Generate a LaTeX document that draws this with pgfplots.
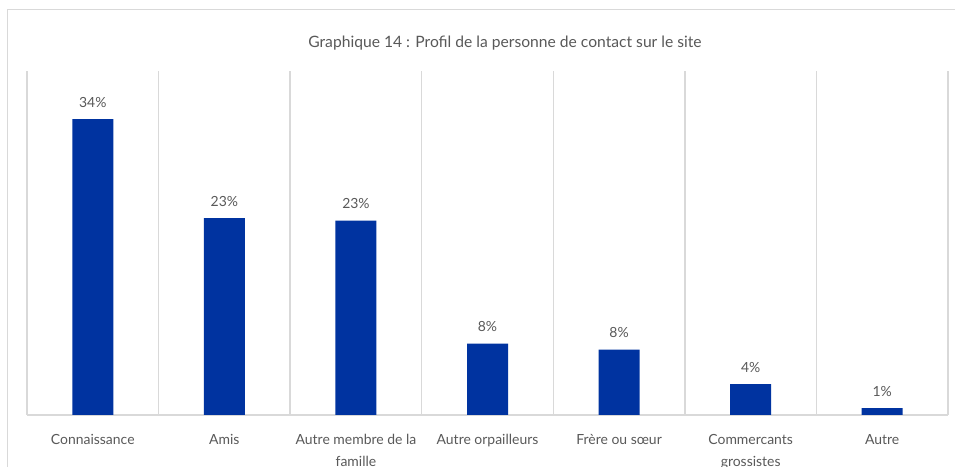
\documentclass[border=0pt]{standalone}
\usepackage{fontspec}
\setmainfont{Lato}
\usepackage{pgfplots}
\pgfplotsset{compat=1.18}
\definecolor{barblue}{HTML}{0033A0}
\definecolor{gridgray}{HTML}{D9D9D9}
\definecolor{txtgray}{HTML}{595959}
\begin{document}
\begin{tikzpicture}[x=1bp,y=1bp]
\useasboundingbox (0,0) rectangle (955,467);
\clip (0,0) rectangle (955,467);
\fill[white] (0,0) rectangle (955,467);
\draw[gridgray, line width=1.3bp] (7.5,-50) -- (7.5,457.5) -- (1000,457.5);
\node[txtgray, font={\fontsize{15.7}{18}\selectfont}] at (505,423.5) {Graphique 14 : Profil de la personne de contact sur le site};
\begin{axis}[
  at={(27bp,52bp)}, anchor=south west,
  scale only axis, width=921bp, height=344bp,
  xmin=-0.5, xmax=6.5, ymin=0, ymax=40,
  axis y line=none,
  axis x line*=bottom,
  x axis line style={-, draw=gridgray, line width=1.3bp},
  xtick={0,...,6},
  xticklabels={Connaissance, Amis, {Autre membre de la\\famille}, Autre orpailleurs, Frère ou sœur, {Commercants\\grossistes}, Autre},
  major tick length=0pt,
  xticklabel style={align=center, anchor=north, inner sep=0pt, yshift=-19bp, font={\fontsize{14}{22}\selectfont}, text=txtgray},
  extra x ticks={-0.5,0.5,1.5,2.5,3.5,4.5,5.5,6.5},
  extra x tick labels={},
  extra x tick style={grid=major, major grid style={draw=gridgray, line width=1.3bp}},
  ybar, bar width=41bp,
  /pgf/number format/assume math mode=true,
  nodes near coords={\pgfmathprintnumber[fixed,precision=0,assume math mode=true]{\pgfplotspointmeta}\%},
  every node near coord/.append style={text=txtgray, font={\fontsize{14}{16}\selectfont}, anchor=base, inner sep=0pt, yshift=12bp},
  clip=false,
]
\addplot[fill=barblue, draw=none] coordinates {(0,34.4) (1,22.9) (2,22.6) (3,8.3) (4,7.6) (5,3.6) (6,0.8)};
\end{axis}
\end{tikzpicture}
\end{document}
